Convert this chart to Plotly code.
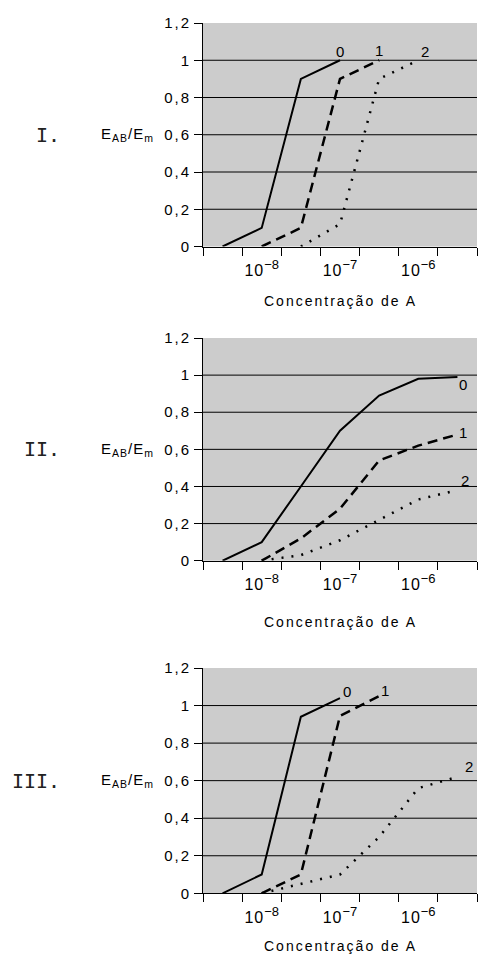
import plotly.graph_objects as go

# ---------------- data ----------------
concentrations = ["5e-9", "1e-8", "5e-8", "1e-7", "5e-7", "1e-6", "5e-6"]  # category slots (Excel-style axis)
x_tick_slots = [1, 3, 5]
x_tick_bases = ["10", "10", "10"]
x_tick_exponents = ["−8", "−7", "−6"]
y_ticks = [0, 0.2, 0.4, 0.6, 0.8, 1.0, 1.2]
y_tick_labels = ["0", "0,2", "0,4", "0,6", "0,8", "1", "1,2"]
series_names = ["0", "1", "2"]
panel_names = ["I.", "II.", "III."]
x_title = "Concentração de A"
y_title = "E<sub>AB</sub>/E<sub>m</sub>"

panel1_s0 = [0, 0.10, 0.90, 1.00, None, None, None]
panel1_s1 = [None, 0, 0.10, 0.90, 1.00, None, None]
panel1_s2 = [None, None, 0, 0.12, 0.90, 1.00, None]

panel2_s0 = [0, 0.10, 0.40, 0.70, 0.89, 0.98, 0.99]
panel2_s1 = [None, 0, 0.12, 0.28, 0.54, 0.62, 0.68]
panel2_s2 = [None, 0, 0.03, 0.11, 0.22, 0.33, 0.38]

panel3_s0 = [0, 0.10, 0.94, 1.04, None, None, None]
panel3_s1 = [None, 0, 0.10, 0.945, 1.05, None, None]
panel3_s2 = [None, 0, 0.05, 0.10, 0.30, 0.56, 0.62]

panels = [
    [panel1_s0, panel1_s1, panel1_s2],
    [panel2_s0, panel2_s1, panel2_s2],
    [panel3_s0, panel3_s1, panel3_s2],
]

# ---------------- styling ----------------
W, H = 478, 956
x_left, x_right = 203, 477
panel_pix = [(23, 246.5), (338, 560.7), (668, 893.3)]  # (top, bottom) in px
label_offsets = [
    [(0, 9), (0, 10), (7, 9)],
    [(6, -8), (6, 2), (8, 10)],
    [(7, 7), (6, 6), (12, 10)],
]
title_shift = [-54, -61, -53]
line_styles = [
    dict(color="black", width=2, dash="solid"),
    dict(color="black", width=2.5, dash="10px,6px"),
    dict(color="black", width=2.5, dash="2px,8px"),
]
FONT = "Liberation Sans, Arial, sans-serif"
LS = "letter-spacing:2px"

x_tick_text = [
    f"<span style='letter-spacing:1px'>{b}</span><sup><span style='font-size:13px'>{e}</span></sup>"
    for b, e in zip(x_tick_bases, x_tick_exponents)
]

fig = go.Figure()
xs = list(range(len(concentrations)))
annotations = []
shapes = []

for p, series in enumerate(panels):
    ax = "" if p == 0 else str(p + 1)
    xref, yref = "x" + ax, "y" + ax
    for k, vals in enumerate(series):
        fig.add_trace(go.Scatter(
            x=xs, y=vals, mode="lines", line=line_styles[k],
            xaxis=xref, yaxis=yref, showlegend=False, hoverinfo="skip",
            connectgaps=False, cliponaxis=False))
        last = max(i for i, v in enumerate(vals) if v is not None)
        dx, dy = label_offsets[p][k]
        annotations.append(dict(
            x=xs[last], y=vals[last], xref=xref, yref=yref, text=series_names[k],
            showarrow=False, xshift=dx, yshift=dy,
            font=dict(family=FONT, size=15, color="black")))
    top, bot = panel_pix[p]
    dom_y = [1 - bot / H, 1 - top / H]
    dom_x = [x_left / W, x_right / W]
    fig.layout["xaxis" + ax] = dict(
        domain=dom_x, anchor=yref, range=[-0.5, len(concentrations) - 0.5],
        tickmode="array", tickvals=x_tick_slots, ticktext=x_tick_text,
        ticks="outside", ticklen=9, tickcolor="rgba(0,0,0,0)",
        tickfont=dict(family=FONT, size=16, color="black"),
        showline=True, linecolor="black", linewidth=1, automargin=False,
        showgrid=False, zeroline=False, fixedrange=True,
        minor=dict(tickmode="array",
                   tickvals=[i - 0.5 for i in range(len(concentrations) + 1)],
                   ticks="outside", ticklen=8, tickwidth=1, tickcolor="black",
                   showgrid=False),
    )
    fig.layout["yaxis" + ax] = dict(
        domain=dom_y, anchor=xref, range=[0, 1.2],
        tickmode="array", tickvals=y_ticks,
        ticktext=[f"<span style='{LS}'>{t}</span>" for t in y_tick_labels],
        ticks="outside", ticklen=8, tickwidth=1, tickcolor="black",
        tickfont=dict(family=FONT, size=15, color="black"),
        showline=True, linecolor="black", linewidth=1, automargin=False,
        showgrid=False, zeroline=False, fixedrange=True,
    )
    for v in y_ticks:
        if 0 < v < y_ticks[-1]:
            shapes.append(dict(type="line", xref=xref + " domain", x0=0, x1=1,
                               yref=yref, y0=v, y1=v, layer="below",
                               line=dict(color="black", width=1)))
    # axis title
    annotations.append(dict(
        x=0.5, y=0, xref=xref + " domain", yref=yref + " domain",
        text=f"<span style='{LS}'>{x_title}</span>", showarrow=False,
        yanchor="middle", yshift=title_shift[p],
        font=dict(family=FONT, size=14, color="black")))
    # y label and panel numeral
    annotations.append(dict(
        x=156 / W, y=y_ticks[3], xref="paper", yref=yref,
        text=f"<span style='letter-spacing:1px'>{y_title}</span>", showarrow=False,
        xanchor="right", yanchor="middle",
        font=dict(family=FONT, size=15, color="black")))
    annotations.append(dict(
        x=62 / W, y=y_ticks[3], xref="paper", yref=yref,
        text=panel_names[p], showarrow=False, xanchor="right", yanchor="middle",
        font=dict(family="DejaVu Sans Mono, monospace", size=20, color="#222")))

fig.update_layout(
    width=W, height=H, autosize=False,
    margin=dict(l=0, r=0, t=0, b=0, pad=0),
    paper_bgcolor="white", plot_bgcolor="#cccccc",
    annotations=annotations, shapes=shapes,
)

fig.write_html(
    "out.html",
    config={"displayModeBar": False},
    post_script="document.body.style.margin='0';document.body.style.overflow='hidden';",
)
